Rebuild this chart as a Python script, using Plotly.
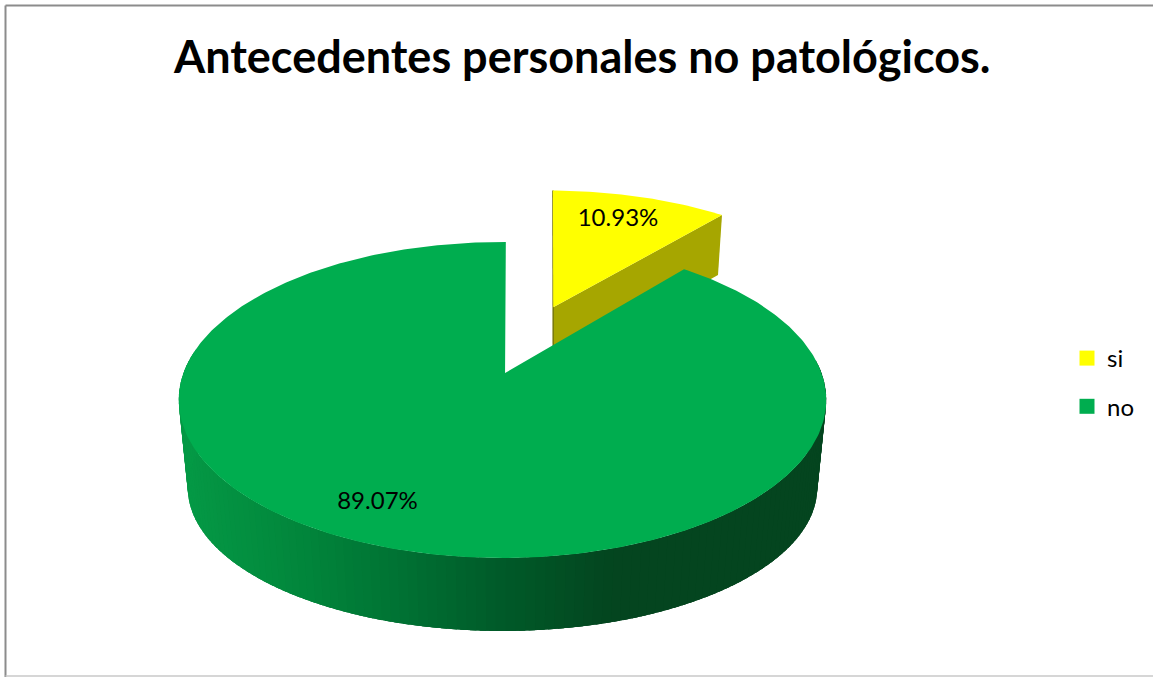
import numpy as np
import plotly.graph_objects as go

# --- data ---
categories = ["si", "no"]
shares = [10.93, 89.07]
label_texts = ["10.93%", "89.07%"]
title_text = "Antecedentes personales no patológicos."
colors = ["#FFFF00", "#00AD4F"]

# --- 3D pie projection (style) ---
W, H = 1153, 677
CX, AX = 502.5, 319.0
P_A, P_B, P_C = -89.6, 373.0, 0.171
ROT = 0.7
WALL_SCALE, WALL_CY, TOP_CY, WALL_RY = 0.972, 488.0, 400.0, 143.0 / 158.0


def project(u, v):
    d = P_C * v + 1
    return CX + AX * u / d, (P_A * v + P_B) / d


def lower(x, y):
    return CX + WALL_SCALE * (x - CX), WALL_CY + (y - TOP_CY) * WALL_RY


def ring(a0, a1, n=160):
    t = np.radians(np.linspace(a0, a1, n))
    return np.sin(t), np.cos(t)


def wall_color(x):
    stops_x = [178, 300, 400, 500, 620, 830]
    stops_r = [5, 2, 0, 0, 4, 4]
    stops_g = [154, 135, 115, 92, 69, 69]
    stops_b = [70, 60, 52, 42, 31, 31]
    return "rgb(%d,%d,%d)" % (
        np.interp(x, stops_x, stops_r),
        np.interp(x, stops_x, stops_g),
        np.interp(x, stops_x, stops_b),
    )


fig = go.Figure()


def poly(x, y, color, line=0.0):
    fig.add_trace(go.Scatter(
        x=list(x), y=list(y), mode="lines", fill="toself", fillcolor=color,
        line=dict(color=color, width=line), showlegend=False, hoverinfo="skip",
    ))


# slice angles from the values
si_deg = 360 * shares[0] / sum(shares)

# exploded "si" slice
EXPL = 0.493
mid = np.radians(ROT + si_deg / 2)
ou, ov = EXPL * np.sin(mid), EXPL * np.cos(mid)


def si_project(u, v):
    x, y = project(u + ou, v + ov)
    return x + 3.5 * v + 3 * u, y - 3 * v


ax_, ay_ = si_project(0, 0)
u1, v1 = np.sin(np.radians(ROT + si_deg)), np.cos(np.radians(ROT + si_deg))
bx_, by_ = si_project(u1, v1)
u0, v0 = np.sin(np.radians(ROT)), np.cos(np.radians(ROT))
tx_, ty_ = si_project(u0, v0)
# inner cut face
poly([ax_, bx_, bx_ - 4, ax_, ax_], [ay_, by_, by_ + 60, ay_ + 60, ay_], "#A6A600")
# left sliver
fig.add_trace(go.Scatter(
    x=[tx_, ax_, ax_], y=[ty_, ay_, ay_ + 40], mode="lines",
    line=dict(color="#77770A", width=1.5), showlegend=False, hoverinfo="skip"))
# top face
us, vs = ring(ROT, ROT + si_deg, 50)
sx, sy = si_project(us, vs)
poly([ax_, *sx, ax_], [ay_, *sy, ay_], colors[0])

# green wall: overlapping bands from right to left so the shading changes without seams
tt = np.arange(85, 276, 1.5)
for a in tt:
    ur, vr = ring(a, a + 4, 5)
    x1, y1 = project(ur, vr)
    x2, y2 = lower(x1, y1)
    poly([*x1, *x2[::-1], x1[0]], [*y1, *y2[::-1], y1[0]], wall_color(x1[0]))

# green top face
ug, vg = ring(ROT + si_deg, ROT + 360, 400)
gx, gy = project(ug, vg)
apx, apy = project(0.008, 0)
poly([apx, *gx, apx], [apy, *gy, apy], colors[1])

# data labels
fig.add_trace(go.Scatter(
    x=[618, 377.5], y=[219.5, 502.5], mode="text", text=label_texts,
    textposition="middle center", textfont=dict(family="Lato", size=24, color="#000"),
    showlegend=False, hoverinfo="skip"))

# legend
for c, col in zip(categories, colors):
    fig.add_trace(go.Scatter(
        x=[None], y=[None], mode="markers", name=c, legendgroup=c,
        marker=dict(symbol="square", size=15, color=col)))

fig.update_layout(
    width=W, height=H, margin=dict(l=0, r=0, t=0, b=0),
    paper_bgcolor="white", plot_bgcolor="white",
    xaxis=dict(range=[0, W], visible=False, fixedrange=True),
    yaxis=dict(range=[H, 0], visible=False, fixedrange=True),
    legend=dict(x=1067 / W, y=1 - 336 / H, xanchor="left", yanchor="top",
                font=dict(family="Lato", size=24, color="#000"),
                tracegroupgap=14, itemwidth=30, bgcolor="rgba(0,0,0,0)"),
    annotations=[dict(text="<b>%s</b>" % title_text, x=581.5 / W, y=1 - 56 / H,
                      xref="paper", yref="paper", xanchor="center", yanchor="middle",
                      showarrow=False, font=dict(family="Lato", size=45, color="#000"))],
    shapes=[
        dict(type="line", xref="paper", yref="paper", x0=5.5 / W, x1=1, y0=1 - 5.5 / H, y1=1 - 5.5 / H,
             line=dict(color="#8C8C8C", width=2)),
        dict(type="line", xref="paper", yref="paper", x0=5.5 / W, x1=5.5 / W, y0=0, y1=1 - 5.5 / H,
             line=dict(color="#8C8C8C", width=2)),
        dict(type="line", xref="paper", yref="paper", x0=5.5 / W, x1=1, y0=1 - 676 / H, y1=1 - 676 / H,
             line=dict(color="#C8C8C8", width=1.5)),
    ],
)
fig.write_html("out.html", post_script="document.body.style.margin='0';document.body.style.overflow='hidden';",
               config=dict(displayModeBar=False))
